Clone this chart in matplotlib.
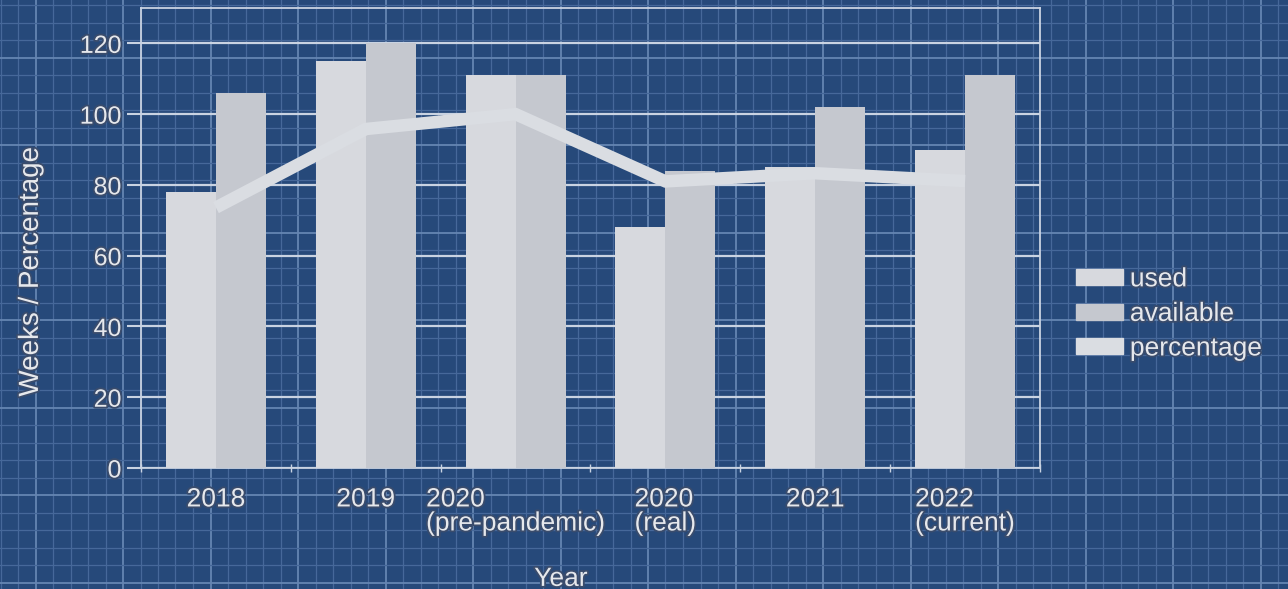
import matplotlib
matplotlib.use("Agg")
import matplotlib.pyplot as plt
import matplotlib.patheffects as pe
from matplotlib.lines import Line2D
from matplotlib.patches import Patch
import numpy as np

plt.rcParams['font.family'] = ['Liberation Sans', 'DejaVu Sans']

categories = ["2018", "2019", "2020\n(pre-pandemic)", "2020\n(real)", "2021", "2022\n(current)"]
used = [78, 115, 111, 68, 85, 90]
available = [106, 120, 111, 84, 102, 111]
percentage = [73.6, 95.8, 100.0, 81.0, 83.3, 81.1]

BG = "#26497a"
GRID_MINOR = "#46689a"
GRID_MAJOR = "#6585b2"
TEXT = "#e6e8ec"
USED_C = "#d7d9de"
AVAIL_C = "#c5c8cf"
LINE_C = "#dadde2"
AXC = "#c9d3e2"

W, H = 1288, 589
fig = plt.figure(figsize=(W / 100, H / 100), dpi=100, facecolor=BG)

# blueprint background grid
for k in range(int(W / 17.5) + 2):
    x = 0.5 + 17.5 * k
    major = k % 5 == 2
    fig.add_artist(Line2D([x / W, x / W], [0, 1], transform=fig.transFigure,
                          color=GRID_MAJOR if major else GRID_MINOR,
                          lw=1.3 if major else 0.9, zorder=-5))
for k in range(int(H / 17.5) + 2):
    y = 5 + 17.5 * k
    major = k % 5 == 3
    fig.add_artist(Line2D([0, 1], [1 - y / H, 1 - y / H], transform=fig.transFigure,
                          color=GRID_MAJOR if major else GRID_MINOR,
                          lw=1.3 if major else 0.9, zorder=-5))

ax = fig.add_axes([141 / W, 1 - 468 / H, (1040 - 141) / W, (468 - 8) / H])
ax.set_facecolor("none")

x = np.arange(len(categories))
bw = 1 / 3
ax.bar(x - bw / 2, used, width=bw, color=USED_C, zorder=3, label="used")
ax.bar(x + bw / 2, available, width=bw, color=AVAIL_C, zorder=3, label="available")
ax.plot(x, percentage, color=LINE_C, lw=9, zorder=4, solid_capstyle="butt",
        solid_joinstyle="miter", label="percentage")

ax.set_xlim(-0.5, len(categories) - 0.5)
ax.set_ylim(0, 130)
ax.set_yticks(range(0, 121, 20))
ax.yaxis.grid(True, color=AXC, lw=1.6, zorder=1)
ax.set_axisbelow(True)

stroke = [pe.withStroke(linewidth=2.6, foreground="#3a4c6c")]
ax.set_xticks(x)
ax.set_xticks(np.arange(-0.5, len(categories)), minor=True)
ax.set_xticklabels(categories, fontsize=19, color=TEXT, path_effects=stroke,
                   multialignment="left", va="top", linespacing=1.0)
ax.tick_params(axis="x", which="major", length=0, pad=14)
ax.tick_params(axis="x", which="minor", length=6, width=1, color=AXC, direction="inout")
ax.tick_params(axis="y", length=10, width=1.5, color=AXC, pad=4, labelsize=18,
               labelcolor=TEXT)
for lab in ax.get_yticklabels():
    lab.set_path_effects(stroke)

for s in ax.spines.values():
    s.set_color(AXC)
    s.set_linewidth(1.3)

ax.set_xlabel("Year", fontsize=19, color=TEXT, path_effects=stroke)
ax.xaxis.set_label_coords(0.467, -0.215)
ax.set_ylabel("Weeks / Percentage", fontsize=20, color=TEXT, path_effects=stroke)
ax.yaxis.set_label_coords(-0.108, 0.426)

handles = [Patch(color=USED_C), Patch(color=AVAIL_C), Patch(color=LINE_C)]
leg = ax.legend(handles, ["used", "available", "percentage"], loc="center left",
                bbox_to_anchor=(1.0134, 0.335), frameon=False, fontsize=19,
                handlelength=1.8, handleheight=0.55, handletextpad=0.25, labelspacing=0.4)
for t in leg.get_texts():
    t.set_color(TEXT)
    t.set_path_effects(stroke)

fig.savefig("out.png", dpi=100, facecolor=BG)
